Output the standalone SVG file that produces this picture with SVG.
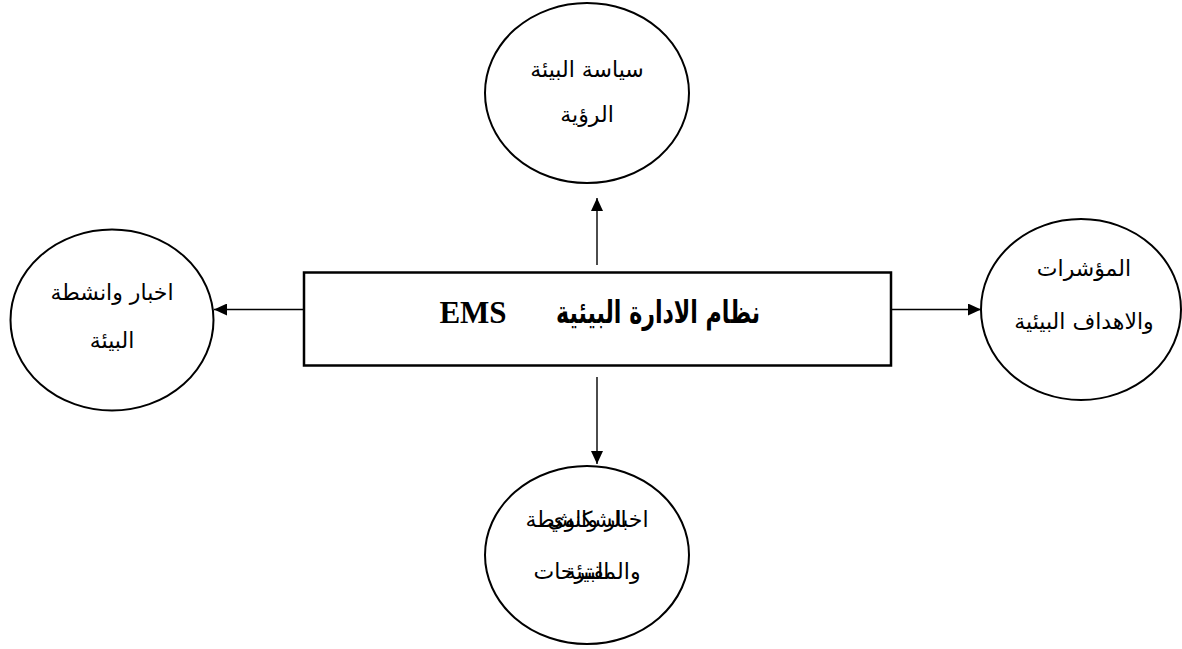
<svg xmlns="http://www.w3.org/2000/svg" width="1182" height="649" viewBox="0 0 1182 649">
  <style>
    .bubble { fill: #ffffff; stroke: #000000; stroke-width: 2; }
    .box { fill: #ffffff; stroke: #000000; stroke-width: 2.5; }
    .link { stroke: #000000; stroke-width: 1.4; fill: none; marker-end: url(#arrow); }
    .lbl { font-family: "DejaVu Sans", "Liberation Sans", sans-serif; font-size: 22px; fill: #000000; text-anchor: middle; }
    .title { font-family: "Liberation Serif", "DejaVu Sans", serif; font-weight: bold; font-size: 31px; fill: #000000; text-anchor: middle; }
    .title-ar { font-family: "DejaVu Sans", "Liberation Serif", serif; font-weight: bold; font-size: 31px; fill: #000000; text-anchor: middle; }
  </style>
  <defs>
    <marker id="arrow" markerUnits="userSpaceOnUse" markerWidth="14" markerHeight="12" refX="13" refY="6" orient="auto">
      <path d="M0,0 L13,6 L0,12 Z" fill="#000000"/>
    </marker>
  </defs>

  <rect width="1182" height="649" fill="#ffffff"/>

  <!-- connectors from the central box to the four bubbles -->
  <g id="connectors">
    <line class="link" x1="597" y1="265" x2="597" y2="198"/>
    <line class="link" x1="597" y1="377" x2="597" y2="464"/>
    <line class="link" x1="304" y1="309.5" x2="214" y2="309.5"/>
    <line class="link" x1="891" y1="309.5" x2="981" y2="309.5"/>
  </g>

  <!-- central box -->
  <g id="ems">
    <rect class="box" x="304" y="272.5" width="587" height="93"/>
    <text class="title-ar" x="658" y="323" direction="rtl" textLength="204" lengthAdjust="spacingAndGlyphs">نظام الادارة البيئية</text>
    <text class="title" x="473" y="323">EMS</text>
  </g>

  <!-- top bubble -->
  <g id="policy">
    <ellipse class="bubble" cx="587" cy="93" rx="102" ry="90"/>
    <text class="lbl" x="587" y="77" direction="rtl">سياسة البيئة</text>
    <text class="lbl" x="587" y="122" direction="rtl">الرؤية</text>
  </g>

  <!-- left bubble -->
  <g id="news">
    <ellipse class="bubble" cx="112" cy="320" rx="101.5" ry="90.5"/>
    <text class="lbl" x="112" y="300" direction="rtl">اخبار وانشطة</text>
    <text class="lbl" x="112" y="348" direction="rtl">البيئة</text>
  </g>

  <!-- right bubble -->
  <g id="indicators">
    <ellipse class="bubble" cx="1081" cy="309.5" rx="100" ry="90.5"/>
    <text class="lbl" x="1084" y="276" direction="rtl">المؤشرات</text>
    <text class="lbl" x="1084" y="329" direction="rtl">والاهداف البيئية</text>
  </g>

  <!-- bottom bubble: two labels printed on top of each other -->
  <g id="complaints">
    <ellipse class="bubble" cx="587" cy="555" rx="102" ry="89"/>
    <text class="lbl" x="587" y="527" direction="rtl">اخبار وانشطة</text>
    <text class="lbl" x="587" y="579" direction="rtl">البيئة</text>
    <text class="lbl" x="587" y="527" direction="rtl">الشكاوي</text>
    <text class="lbl" x="587" y="579" direction="rtl">والمقترحات</text>
  </g>
</svg>
